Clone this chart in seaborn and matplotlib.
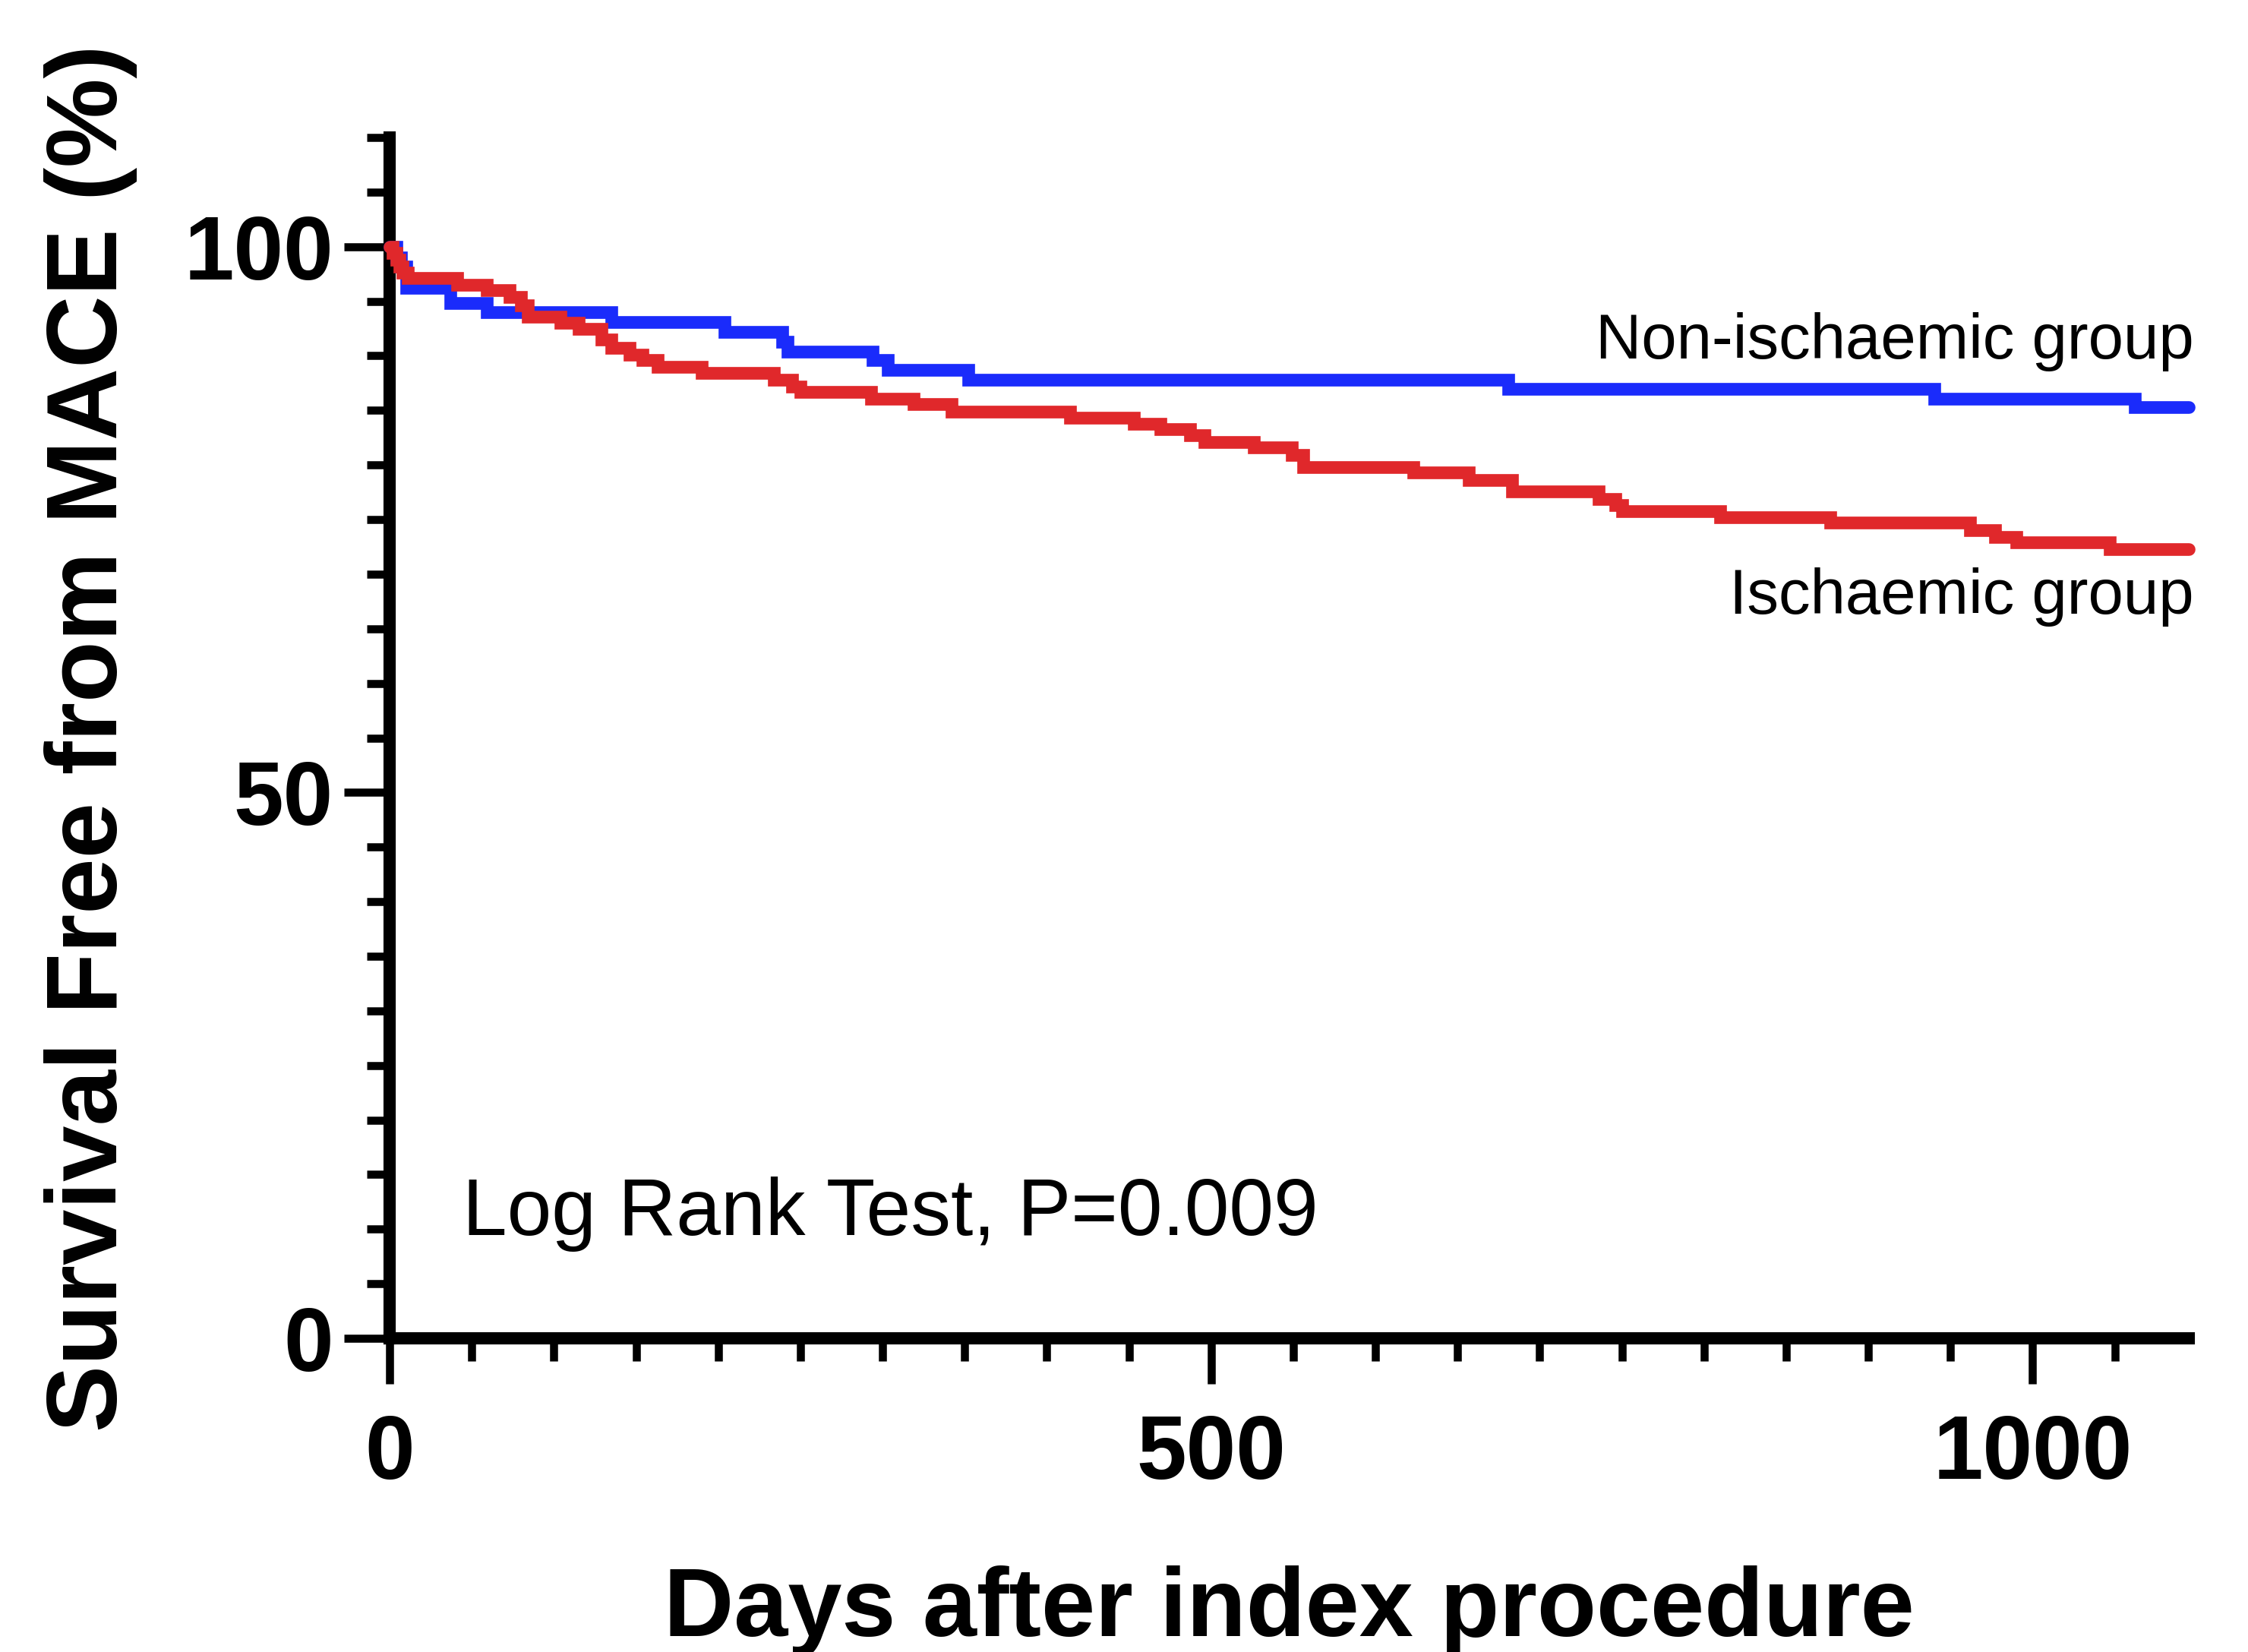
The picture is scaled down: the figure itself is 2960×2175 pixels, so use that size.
import numpy as np
import pandas as pd
import matplotlib
matplotlib.use("Agg")
import matplotlib.pyplot as plt
import seaborn as sns
from matplotlib.ticker import MultipleLocator

# ---------------- data ----------------
groups = ["Non-ischaemic group", "Ischaemic group"]
group_colors = ["#1a2bfb", "#e0282b"]

non_isch_days = [0, 4, 7, 10, 37, 59, 135, 204, 239, 242, 294, 303, 352,
                 681, 940, 1062, 1095]
non_isch_surv = [100, 99.0, 98.2, 96.2, 94.8, 94.0, 93.1, 92.2, 91.3, 90.4,
                 89.6, 88.7, 87.8, 87.0, 86.1, 85.3, 85.3]

isch_days = [0, 2, 4, 6, 8, 11, 41, 59, 73, 80, 84, 104, 115, 129, 135, 146,
             154, 163, 190, 234, 245, 250, 293, 319, 342, 414, 453, 469, 487,
             496, 526, 549, 556, 623, 657, 683, 736, 746, 750, 810, 877, 962,
             977, 990, 1047, 1095]
isch_surv = [100, 99.4, 98.8, 98.2, 97.6, 97.1, 96.5, 96.0, 95.4, 94.6, 93.6,
             93.0, 92.5, 91.5, 90.7, 90.1, 89.6, 89.0, 88.4, 87.8, 87.2, 86.7,
             86.1, 85.6, 84.9, 84.3, 83.8, 83.3, 82.7, 82.1, 81.6, 80.9, 79.8,
             79.3, 78.6, 77.6, 76.9, 76.3, 75.8, 75.2, 74.7, 74.0, 73.4, 72.9,
             72.3, 72.3]

x_major_ticks = [0, 500, 1000]
y_major_ticks = [0, 50, 100]
x_label = "Days after index procedure"
y_label = "Survival Free from MACE (%)"
annotation = "Log Rank Test, P=0.009"

df = pd.concat([
    pd.DataFrame({"day": non_isch_days, "survival": non_isch_surv, "group": groups[0]}),
    pd.DataFrame({"day": isch_days, "survival": isch_surv, "group": groups[1]}),
], ignore_index=True)

# ---------------- style ----------------
sns.set_style("ticks")
plt.rcParams['font.family'] = ['Liberation Sans', 'DejaVu Sans']
plt.rcParams.update({
    "text.color": "black",
    "axes.labelcolor": "black",
    "xtick.color": "black",
    "ytick.color": "black",
    "axes.edgecolor": "black",
})

W, H = 2960, 2175
fig = plt.figure(figsize=(W / 200, H / 200), dpi=200)
ax = fig.add_axes([513 / W, 1 - 1762 / H, (2882 - 513) / W, (1762 - 181) / H])

sns.lineplot(data=df, x="day", y="survival", hue="group", hue_order=groups,
             palette=dict(zip(groups, group_colors)), estimator=None,
             errorbar=None, drawstyle="steps-post", linewidth=6.0,
             legend=False, ax=ax, solid_capstyle="round",
             solid_joinstyle="miter", clip_on=False, zorder=3)

ax.set_xlim(0, 1095)
ax.set_ylim(0, 110)
sns.despine(ax=ax)
for side in ["left", "bottom"]:
    ax.spines[side].set_linewidth(5.8)
    ax.spines[side].set_color("black")

ax.set_xticks(x_major_ticks)
ax.set_xticklabels([str(t) for t in x_major_ticks], fontsize=42.5, fontweight="bold")
ax.set_yticks(y_major_ticks)
ax.set_yticklabels([str(t) for t in y_major_ticks], fontsize=42.5, fontweight="bold")
ax.xaxis.set_minor_locator(MultipleLocator(50))
ax.yaxis.set_minor_locator(MultipleLocator(5))
ax.tick_params(which="major", length=21.6, width=3.8, direction="out", color="black")
ax.tick_params(which="minor", length=10.8, width=3.8, direction="out", color="black")
ax.tick_params(axis="x", which="major", pad=14)
ax.tick_params(axis="y", which="major", pad=5)

ax.set_xlabel(x_label, fontsize=46, fontweight="bold", labelpad=32)
ax.set_ylabel(y_label, fontsize=47.5, fontweight="bold", labelpad=22)

ax.text(1098, 89.77, groups[0], ha="right", va="baseline", fontsize=30)
ax.text(1098, 66.4, groups[1], ha="right", va="baseline", fontsize=30)
ax.text(44.5, 9.46, annotation, ha="left", va="baseline", fontsize=38)

fig.savefig("out.png", dpi=200, facecolor="white")
